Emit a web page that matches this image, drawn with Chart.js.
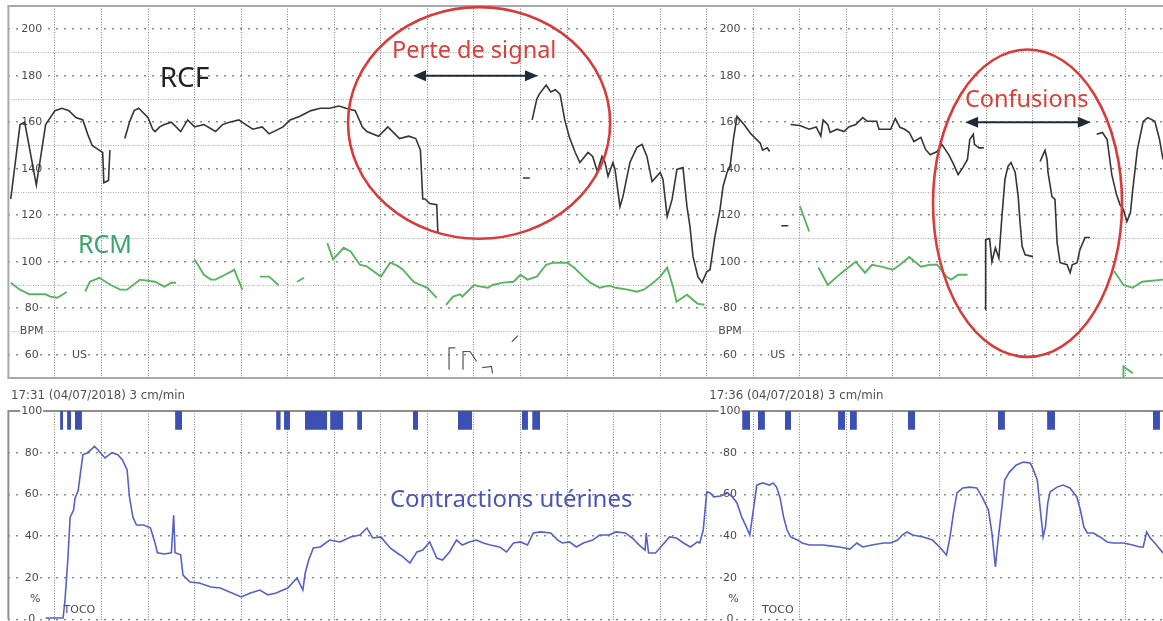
<!DOCTYPE html>
<html>
<head>
<meta charset="utf-8">
<title>RCF / RCM / TOCO</title>
<script src="https://cdn.jsdelivr.net/npm/chart.js"></script>
<style>
  body { margin: 0; background: #fff; width: 1163px; height: 621px; overflow: hidden; position: relative; }
  #topBox { position: absolute; left: 0; top: 0; width: 1163px; height: 380px; }
  #bottomBox { position: absolute; left: 0; top: 380px; width: 1163px; height: 241px; }
</style>
</head>
<body>
<div id="topBox"><canvas id="fhrChart"></canvas></div>
<div id="bottomBox"><canvas id="tocoChart"></canvas></div>
<script>
// time axis: seconds since 17:31, paper speed 3 cm/min (one grid cell = 20 s)
var sectionStart = [0, 300];
var sectionHeader = ['17:31 (04/07/2018) 3 cm/min', '17:36 (04/07/2018) 3 cm/min'];
var bpmTicks = [200, 180, 160, 140, 120, 100, 80, 60];
var tocoTicks = [100, 80, 60, 40, 20, 0];

// fetal heart rate (RCF), null = signal gap
var rcfTime = [
  1, 5, 7, 12, 16, 20, 23, 26, 29, 32, 34, 36, 39, 40.5, 41, 43, 43.6, 47,
  50, 52, 54, 56, 60, 62, 63, 65, 67, 70, 74, 77, 80, 84, 89, 92, 95, 99, 102, 105, 109, 112, 118, 121, 125, 130, 134, 138, 142, 145, 149, 152, 154, 159, 163, 166, 168, 172, 175, 177, 178, 179, 181, 184, 184.5, 200,
  221, 224, 224.5,
  225, 227, 228, 231, 233, 235, 237, 239, 241, 243.5, 245.5, 249, 251, 253, 255, 256.3, 257.6, 259.7, 260.6, 262.7, 264, 267, 270, 272.2, 274.3, 276.5, 280, 281.2, 283, 285.1, 287.2, 289.8, 291.5, 292.8, 294.1, 296.2, 298, 300, 301.4, 303.5, 305.7, 307, 308.7, 310, 311.5, 313, 316, 319, 323, 324, 326, 327, 330,
  332, 335, 335.5,
  336, 340, 344, 347, 349, 350, 352, 353, 356, 359, 361, 364, 367, 369, 373, 374, 379, 381, 383, 385, 387, 389, 392, 394, 396, 399, 401, 404, 406, 408, 410, 412, 413, 414.5, 415, 417, 419, 419.5,
  419.6, 419.8, 421.5, 422.5, 424, 425.5, 426.8, 428.1, 429.4, 430.7, 432.5, 433.8, 434.6, 435.5, 436.8, 440.2, 442,
  443.2, 445.3, 446.2, 446.6, 448.3, 449.6, 450.5, 451.8, 454.8, 456.1, 457, 459.1, 460.3, 462.5, 464.6, 466,
  467.5, 470, 472, 474, 476, 477.5, 479, 480.5, 482, 483, 485, 487.5, 489.5, 492.5, 494.5, 496
];
var rcfBpm = [
  127, 159, 160, 133, 159, 165, 166, 165, 162, 161, 155, 150, 148, 147, 134, 135, 148, null,
  153, 160, 165, 166, 162, 157, 156, 158, 159, 160, 156, 161, 158, 159, 156, 159, 160, 161, 159, 157, 158, 155, 158, 161, 162.5, 165, 166, 166, 167, 166, 165, 158, 156, 154, 158, 155, 153, 154, 153, 148, 127, 127, 125, 124.5, 112.5, null,
  136, 136, null,
  161, 170, 172, 176, 173, 174, 172, 161, 153.5, 147, 142.7, 147, 145.3, 138.8, 145.3, 142.7, 136.7, 142.7, 139.7, 123.7, 128, 142.7, 149.2, 150.5, 145.3, 134.5, 138.4, 135.4, 119.4, 126.8, 139.7, 140.5, 123.7, 115.1, 102.2, 93.6, 91, 95.7, 96.6, 110.8, 122.4, 132.4, 138.4, 141, 153, 162.5, 159, 155, 151, 148, 149, 147.4, null,
  115.5, 115.5, null,
  159, 158.6, 157, 158, 154, 161, 159, 155.6, 157, 156, 158, 159, 162, 160.4, 160.4, 157, 157, 161.6, 157.8, 157, 155.6, 151.7, 153.5, 148.3, 146, 147.4, 150.5, 146, 142, 137.5, 140.5, 144, 152.6, 154.8, 150.5, 149, 149, null,
  79.4, 109.5, 110, 100, 106, 101.5, 119.4, 135.4, 141, 142.7, 138.4, 128, 116.8, 106.5, 103, 102.2, null,
  143.1, 147.9, 144, 138.4, 128, 126.8, 108.2, 99.6, 98.7, 95.3, 98.7, 99.6, 105.2, 110.4, 110.4, null,
  154.8, 155.6, 152.6, 137.5, 129, 124.6, 122.4, 117.3, 121, 131, 148.3, 160.4, 162, 160.4, 152.6, 144
];

// maternal heart rate (RCM)
var rcmTime = [
  1, 5, 9, 16, 18, 21, 23.5, 25, 29,
  33, 35, 39, 44, 48, 51, 56.5, 63, 67, 70, 72, 76,
  80, 84, 87, 89, 93, 96, 97, 100.5, 104,
  108, 112, 116, 120,
  124, 127, 132,
  137, 139.5, 144, 147, 151, 154, 160, 162, 164, 167, 169.5, 174, 177, 180, 184, 186,
  188, 191, 194, 195, 198, 200, 203, 206, 208, 212.5, 217, 220, 223, 227, 231, 234, 240, 243, 247, 250, 254, 258, 261, 266, 270, 273, 277, 280, 283, 285.5, 287, 291.5, 296, 299, 320,
  340, 344, 346,
  348, 352, 356, 358.5, 364, 368, 371, 375, 380, 383, 387, 392, 396, 399, 403, 405, 408, 412, 440,
  475, 479, 483, 487, 496
];
var rcmBpm = [
  91, 88, 86, 86, 85, 84.5, 86, 87, null,
  87.2, 91.4, 93.1, 90, 88, 88, 92.3, 91.4, 89.3, 91, 91, null,
  101, 94.4, 92.3, 92.3, 94.4, 96, 96.6, 88, null,
  93.6, 93.6, 90, null,
  91.4, 93.1, null,
  108, 101, 106, 104.4, 98.7, 98, 93.6, 96.6, 99.6, 98.3, 96.6, 91.4, 90, 88.8, 84.5, null,
  81.5, 85, 86, 85, 88, 90, 89.3, 88.8, 90, 91, 91.4, 94.4, 92.3, 93.6, 98.7, 99.6, 99.6, 97.5, 93.6, 91, 88.8, 89.7, 88.8, 88, 87.1, 88, 91, 93.6, 97.5, 89.3, 82.8, 85.8, 82, 81.5, null,
  124, 113, null,
  97.5, 90, 93.6, 95.7, 100, 95.3, 98.7, 97.9, 96.6, 98.7, 102, 97.9, 98.7, 98.7, 93.6, 92.3, 94.4, 94.4, null,
  96, 90, 88.8, 91.4, 92.3
];
var rcmMarkTime = [479, 479, 483];
var rcmMarkBpm = [50, 55, 52];

// stray pen marks in the US band
var usMarkTime = [189.3, 189.3, 192, 193, 195.3, 195.3, 198.3, 201.2, 202, 203.5, 207.5, 208, 212, 216.3, 218.9];
var usMarkBpm = [53.5, 63, 63, null, 53.5, 61.4, 61.4, 57.1, null, 54.5, 55, 52, null, 65.6, 68.2];

// uterine pressure (TOCO, %)
var tocoTime = [16, 23.5, 24.3, 25.6, 26.5, 28, 28.6, 30, 31, 32, 34, 36, 37, 38.5, 41.5, 44.5, 47, 49, 51, 52, 53.5, 55, 58, 61, 63, 64, 67, 70, 71, 71.6, 74, 75, 78, 82, 87, 91, 95, 100, 104, 108, 111.5, 115, 120, 124, 126.5, 127.5, 129, 131, 134, 138, 142.5, 147, 151, 154, 156.5, 160, 164, 167, 169.5, 172.5, 175.5, 178, 181, 184, 186.5, 189.5, 192.5, 195, 198, 201, 204, 207, 211, 214, 217, 220, 223, 225.5, 228.5, 233, 236, 238, 241, 244, 247, 251, 254, 258, 261, 265, 268, 271, 273.5, 274, 275, 278, 281, 284, 287, 290, 293, 296, 297, 298.5, 300, 301.5, 303, 306, 309, 311, 313, 315, 317, 318.5, 320, 321.5, 324, 327, 328.5, 330, 331.5, 333, 334.5, 336, 339, 341, 344, 350, 353, 357, 361.5, 364.5, 367, 371, 376, 379, 382, 384, 386, 388.5, 393, 397, 400, 403, 404.5, 406, 407.5, 410, 413, 416, 418.5, 421, 422.5, 424, 425, 427, 428, 430, 433, 436, 439, 440, 442, 443, 444.5, 445.5, 446.5, 447.5, 450.5, 453, 456, 459, 460.5, 462, 463.5, 466, 469, 472, 474.5, 479, 483, 486, 487.5, 489, 490.5, 492.5, 496];
var tocoPct = [0.7, 0.7, 9, 30, 49, 52.5, 58, 62, 70.7, 79, 80, 82, 83, 81.3, 77.5, 80, 79, 76.5, 71.7, 58.8, 49, 45.3, 45.3, 44, 36.7, 32, 31.4, 32, 50, 32, 31, 21.3, 18, 17.5, 15.6, 15.1, 13.2, 10.8, 12.7, 14.1, 11.8, 12.7, 15.1, 19.9, 14.1, 22.3, 28.5, 34.3, 34.8, 38.1, 37.2, 39.6, 40.5, 43.9, 39.1, 39.6, 34.3, 31.9, 30, 27.1, 32.4, 33.3, 37.2, 29.5, 28.5, 32.4, 38.1, 35.7, 37.2, 38.1, 36.7, 35.7, 34.8, 32.4, 36.7, 37.2, 35.7, 41.5, 42, 41.5, 38.1, 36.7, 37.2, 34.8, 36.7, 38.1, 40.5, 40.5, 42, 41.5, 39.1, 35.7, 33.3, 41.5, 31.9, 31.9, 35.7, 39.6, 39.1, 36.7, 34.8, 37.2, 36.7, 42.9, 61.2, 60.7, 58.8, 59.2, 60.7, 58.8, 55.9, 49.2, 44.4, 40.5, 52.5, 64.5, 65.5, 64.5, 65.5, 63.5, 58.3, 49.2, 42.9, 39.6, 38.1, 36.7, 35.7, 35.7, 35.3, 34.8, 33.8, 36.7, 34.8, 35.7, 36.7, 36.7, 38.1, 40.5, 42, 40.5, 39.6, 38.1, 34.8, 30.9, 39.6, 51.1, 60.7, 63.1, 63.5, 63.1, 58.3, 52.5, 41.5, 25.2, 36.7, 55.9, 66.9, 70.7, 74.1, 75.5, 75.1, 72.7, 66.9, 55.9, 39.6, 44.4, 55.9, 61.2, 63.5, 64.5, 63.1, 58.8, 52.5, 44.4, 41.5, 41.5, 39.6, 37.2, 36.7, 36.7, 35.7, 34.8, 34.8, 42, 39.1, 36.7, 31.9];

// event marks printed along the top of the TOCO strip (start / end, s)
var markStart = [22.2, 25.2, 28.6, 71.6, 115, 118.4, 127.4, 138.2, 149.8, 173.8, 193.1, 220.6, 225, 315.2, 322, 333.6, 356.4, 361.5, 386.4, 425.1, 446.2, 491.7];
var markEnd = [23.5, 26.9, 31.6, 74.6, 117, 121, 136.9, 143.8, 151.9, 176, 199.2, 223.2, 228.4, 318.6, 325, 336.2, 359.4, 364.5, 389.5, 428.1, 449.6, 494.7];

function points(xs, ys) {
  return xs.map(function (x, i) { return { x: x, y: ys[i] }; });
}

var markPoints = [];
markStart.forEach(function (s, i) {
  markPoints.push({ x: s, y: 100 }, { x: markEnd[i], y: 100 }, { x: markEnd[i], y: null });
});

Chart.defaults.font.family = '"DejaVu Sans", sans-serif';

// paper frame, printed scale labels and strip headers
var paperPlugin = {
  id: 'paper',
  beforeDatasetsDraw: function (chart, args, o) {
    var ctx = chart.ctx, a = chart.chartArea;
    var xs = chart.scales.x, ys = chart.scales.y;
    ctx.save();
    ctx.strokeStyle = o.frameColor;
    ctx.lineWidth = 2;
    ctx.beginPath();
    if (o.frameBottom) {
      ctx.moveTo(chart.width, a.bottom);
      ctx.lineTo(a.left, a.bottom);
    } else {
      ctx.moveTo(a.left, a.bottom);
    }
    ctx.lineTo(a.left, a.top);
    ctx.lineTo(chart.width, a.top);
    ctx.stroke();

    ctx.font = '11px "DejaVu Sans"';
    ctx.textAlign = 'center';
    ctx.textBaseline = 'middle';
    function put(txt, x, y) {
      var w = ctx.measureText(txt).width;
      ctx.fillStyle = '#fff';
      ctx.fillRect(x - w / 2 - 1, y - 5, w + 2, 10);
      ctx.fillStyle = '#4a4a4a';
      ctx.fillText(txt, x, y);
    }
    sectionStart.forEach(function (s) {
      o.ticks.forEach(function (v) {
        put(String(v), xs.getPixelForValue(s + 10), ys.getPixelForValue(v));
      });
      o.extra.forEach(function (e) {
        put(e.text, xs.getPixelForValue(s + e.dt), ys.getPixelForValue(e.v));
      });
    });

    if (o.headers) {
      ctx.font = '11.8px "DejaVu Sans"';
      ctx.textAlign = 'left';
      ctx.textBaseline = 'alphabetic';
      ctx.fillStyle = '#4f4f4f';
      sectionStart.forEach(function (s, i) {
        ctx.fillText(sectionHeader[i], xs.getPixelForValue(s) + 2.5, a.top - 12);
      });
    }
    ctx.restore();
  }
};

// hand-drawn annotations: ellipses, double arrows, captions
var notesPlugin = {
  id: 'notes',
  afterDatasetsDraw: function (chart, args, o) {
    var ctx = chart.ctx, xs = chart.scales.x, ys = chart.scales.y;
    ctx.save();
    (o.ellipses || []).forEach(function (e) {
      var cx = xs.getPixelForValue(e.t), cy = ys.getPixelForValue(e.v);
      var rx = Math.abs(xs.getPixelForValue(e.t + e.rt) - cx);
      var ry = Math.abs(ys.getPixelForValue(e.v + e.rv) - cy);
      ctx.strokeStyle = '#d83c3a';
      ctx.lineWidth = 2.6;
      ctx.beginPath();
      ctx.ellipse(cx, cy, rx, ry, 0, 0, Math.PI * 2);
      ctx.stroke();
    });
    (o.arrows || []).forEach(function (r) {
      var x1 = xs.getPixelForValue(r.t1), x2 = xs.getPixelForValue(r.t2), y = ys.getPixelForValue(r.v);
      ctx.strokeStyle = '#1f2a38';
      ctx.fillStyle = '#1f2a38';
      ctx.lineWidth = 2;
      ctx.beginPath();
      ctx.moveTo(x1 + 10, y);
      ctx.lineTo(x2 - 10, y);
      ctx.stroke();
      [[x1, 1], [x2, -1]].forEach(function (h) {
        ctx.beginPath();
        ctx.moveTo(h[0], y);
        ctx.lineTo(h[0] + 13 * h[1], y - 5.5);
        ctx.lineTo(h[0] + 13 * h[1], y + 5.5);
        ctx.closePath();
        ctx.fill();
      });
    });
    (o.texts || []).forEach(function (tx) {
      ctx.font = tx.size + 'px "Noto Sans"';
      ctx.fillStyle = tx.color;
      ctx.textAlign = 'left';
      ctx.textBaseline = 'alphabetic';
      ctx.fillText(tx.text, xs.getPixelForValue(tx.t), ys.getPixelForValue(tx.v));
    });
    ctx.restore();
  }
};

function timeScale() {
  return {
    type: 'linear',
    min: 0,
    max: 496,
    ticks: { display: false, stepSize: 20, includeBounds: false },
    grid: { drawTicks: false, color: '#7c7c7c', lineWidth: 1 },
    border: { display: false, dash: [1, 1.6] }
  };
}

function lineSet(label, data, color, width) {
  return {
    label: label,
    data: data,
    borderColor: color,
    borderWidth: width,
    pointRadius: 0,
    tension: 0,
    spanGaps: false,
    fill: false
  };
}

new Chart(document.getElementById('fhrChart'), {
  type: 'line',
  data: {
    datasets: [
      lineSet('RCF', points(rcfTime, rcfBpm), '#353535', 1.6),
      lineSet('RCM', points(rcmTime, rcmBpm), '#58b460', 1.9),
      lineSet('RCM mark', points(rcmMarkTime, rcmMarkBpm), '#58b460', 1.9),
      lineSet('US', points(usMarkTime, usMarkBpm), '#555', 1.2)
    ]
  },
  options: {
    responsive: true,
    maintainAspectRatio: false,
    animation: false,
    layout: { padding: { left: 8.4, right: 0, top: 6, bottom: 2 } },
    scales: {
      x: timeScale(),
      y: {
        min: 50,
        max: 210,
        ticks: { display: false, stepSize: 10 },
        grid: {
          drawTicks: false,
          color: function (c) { return c.tick && c.tick.value % 20 === 0 ? '#8a8a8a' : '#ababab'; },
          lineWidth: function (c) { return c.tick && c.tick.value % 20 === 0 ? 1.6 : 1; }
        },
        border: {
          display: false,
          dash: function (c) { return c.tick && c.tick.value % 20 === 0 ? [2, 6] : [1, 1.5]; }
        }
      }
    },
    plugins: {
      legend: { display: false },
      tooltip: { enabled: false },
      paper: {
        frameColor: '#a8a8a8',
        frameBottom: true,
        ticks: bpmTicks,
        extra: [{ text: 'BPM', dt: 10, v: 70 }, { text: 'US', dt: 30.5, v: 60 }],
        headers: false
      },
      notes: {
        ellipses: [
          { t: 202.2, v: 159.7, rt: 56.3, rv: 49.8 },
          { t: 437.8, v: 125.2, rt: 40.6, rv: 66.1 }
        ],
        arrows: [
          { t1: 173.8, t2: 227.5, v: 180 },
          { t1: 411, t2: 465, v: 160 }
        ],
        texts: [
          { text: 'RCF', t: 65, v: 175, size: 28, color: '#222' },
          { text: 'RCM', t: 29.9, v: 103.8, size: 25, color: '#3aa66b' },
          { text: 'Perte de signal', t: 164.8, v: 187.6, size: 23.5, color: '#d8403b' },
          { text: 'Confusions', t: 410.9, v: 166.6, size: 23.5, color: '#d8403b' }
        ]
      }
    }
  },
  plugins: [paperPlugin, notesPlugin]
});

new Chart(document.getElementById('tocoChart'), {
  type: 'line',
  data: {
    datasets: [
      lineSet('TOCO', points(tocoTime, tocoPct), '#5661c4', 1.6),
      {
        label: 'Marks',
        data: markPoints,
        borderWidth: 0,
        borderColor: '#3c4fb4',
        backgroundColor: '#3c4fb4',
        pointRadius: 0,
        spanGaps: false,
        fill: { value: 91 }
      }
    ]
  },
  options: {
    responsive: true,
    maintainAspectRatio: false,
    animation: false,
    layout: { padding: { left: 8.4, right: 0, top: 31, bottom: 1.5 } },
    scales: {
      x: timeScale(),
      y: {
        min: 0,
        max: 100,
        ticks: { display: false, stepSize: 20 },
        grid: { drawTicks: false, color: '#8a8a8a', lineWidth: 1.6 },
        border: { display: false, dash: [2, 6] }
      }
    },
    plugins: {
      legend: { display: false },
      tooltip: { enabled: false },
      paper: {
        frameColor: '#8e8e8e',
        frameBottom: false,
        ticks: tocoTicks,
        extra: [{ text: '%', dt: 11.5, v: 10 }, { text: 'TOCO', dt: 30.5, v: 4.6 }],
        headers: true
      },
      notes: {
        texts: [
          { text: 'Contractions utérines', t: 163.9, v: 54, size: 24, color: '#4a55b8' }
        ]
      }
    }
  },
  plugins: [paperPlugin, notesPlugin]
});
</script>
</body>
</html>
